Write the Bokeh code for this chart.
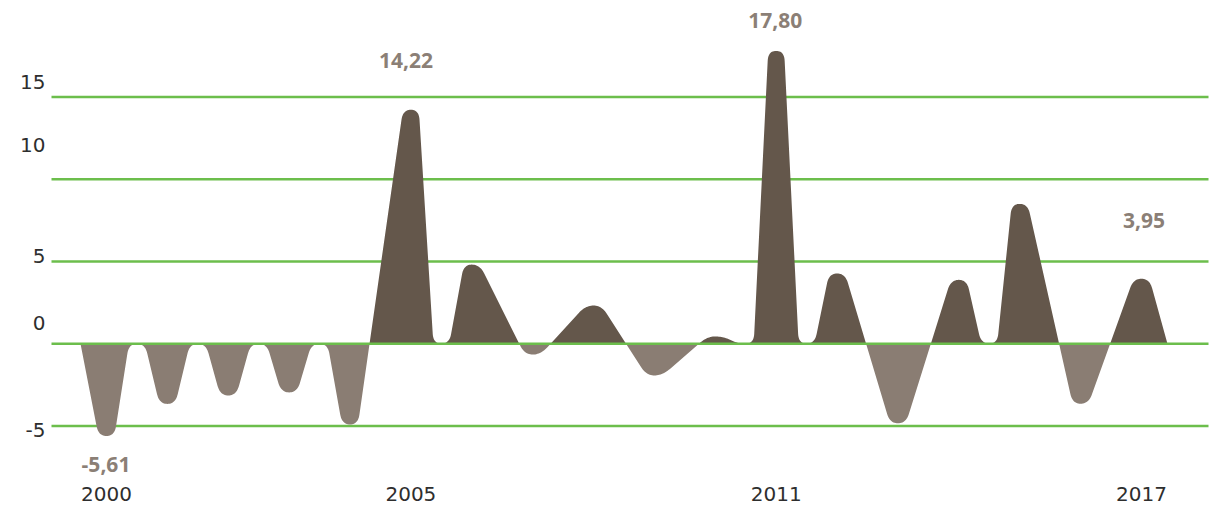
import numpy as np
from bokeh.plotting import figure
from bokeh.models import Range1d
from bokeh.core.properties import value
from bokeh.embed import file_html
from bokeh.resources import INLINE

# ---------------- data ----------------
years = list(range(2000, 2018))
values = [-5.61, -3.66, -3.15, -2.96, -4.91, 14.22, 4.81, -0.66, 2.32, -1.93,
          0.44, 17.80, 4.27, -4.84, 3.88, 8.50, -3.65, 3.95]
y_ticks = [15, 10, 5, 0, -5]
y_tick_labels = ["15", "10", "5", "0", "-5"]
x_tick_years = [2000, 2005, 2011, 2017]
x_tick_labels = ["2000", "2005", "2011", "2017"]
label_years = [2000, 2005, 2011, 2017]
label_values = [-5.61, 14.22, 17.80, 3.95]
label_texts = ["-5,61", "14,22", "17,80", "3,95"]

# ---------------- layout / style ----------------
W, H = 1226, 507
X0_PX, PX_PER_YEAR = 106.0, 60.88     # pixel of year 2000, pixels per year
Y0_PX, PX_PER_UNIT = 343.2, 16.45     # pixel (from top) of value 0, pixels per unit
DARK = "#64574b"
LIGHT = "#8a7d73"
GREEN = "#6cbe4c"
TEXT = "#2e2e2e"
LABEL = "#8b7f76"
HALF = 8.0      # half width of the flat tip, px
CUT = 10.0      # corner rounding length, px
END_PAD = 26.0  # start/end of the band beyond first/last year, px

def px_to_year(px):
    return 2000 + (px - X0_PX) / PX_PER_YEAR

def px_to_val(py):
    return (Y0_PX - py) / PX_PER_UNIT

p = figure(width=W, height=H, output_backend="svg", toolbar_location=None,
           x_range=Range1d(px_to_year(0), px_to_year(W)),
           y_range=Range1d(px_to_val(H), px_to_val(0)),
           min_border=0, x_axis_location=None, y_axis_location=None, title=None)
p.outline_line_color = None
p.xgrid.visible = False
p.ygrid.visible = False
p.background_fill_color = "white"
p.border_fill_color = "white"

# ---------------- geometry of the peaks (in pixel space) ----------------
def to_px_x(yr):
    return (yr - 2000) * PX_PER_YEAR

verts = [(to_px_x(years[0]) - END_PAD, 0.0)]
for i, (yr, v) in enumerate(zip(years, values)):
    cx, cy = to_px_x(yr), v * PX_PER_UNIT
    if i > 0 and (values[i - 1] > 0) == (v > 0):
        mx = cx - PX_PER_YEAR / 2
        verts += [(mx - HALF, 0.0), (mx + HALF, 0.0)]
    verts += [(cx - HALF, cy), (cx + HALF, cy)]
verts.append((to_px_x(years[-1]) + END_PAD, 0.0))
verts = np.array(verts)

pts = [verts[0]]
ts = np.linspace(0, 1, 14)
for k in range(1, len(verts) - 1):
    A, P, B = verts[k - 1], verts[k], verts[k + 1]
    la, lb = np.linalg.norm(P - A), np.linalg.norm(B - P)
    d_in, d_out = min(CUT, la / 2), min(CUT, lb / 2)
    S = P + (A - P) / la * d_in
    E = P + (B - P) / lb * d_out
    for t in ts:
        pts.append((1 - t) ** 2 * S + 2 * (1 - t) * t * P + t ** 2 * E)
pts.append(verts[-1])
pts = np.array(pts)

# insert exact zero crossings
cx_list, cy_list = [pts[0][0]], [pts[0][1]]
for (x1, y1), (x2, y2) in zip(pts[:-1], pts[1:]):
    if y1 * y2 < 0:
        xz = x1 + (x2 - x1) * (-y1) / (y2 - y1)
        cx_list.append(xz)
        cy_list.append(0.0)
    cx_list.append(x2)
    cy_list.append(y2)
xs = 2000 + np.array(cx_list) / PX_PER_YEAR
ys = np.array(cy_list) / PX_PER_UNIT

# ---------------- gridlines ----------------
gx0, gx1 = px_to_year(51), px_to_year(1208)
other = [t for t in y_ticks if t != 0]
p.segment(x0=[gx0] * len(other), y0=other, x1=[gx1] * len(other), y1=other,
          line_color=GREEN, line_width=2.6)

# ---------------- areas ----------------
p.varea(x=xs, y1=np.zeros_like(ys), y2=np.maximum(ys, 0), fill_color=DARK)
p.varea(x=xs, y1=np.minimum(ys, 0), y2=np.zeros_like(ys), fill_color=LIGHT)

p.segment(x0=[gx0], y0=[0], x1=[gx1], y1=[0], line_color=GREEN, line_width=2.6)

# ---------------- y tick labels ----------------
tick_dy_px = [-15, -34, -5.5, -20.7, 4.5]   # label offset from its gridline (px, down +)
p.text(x=[px_to_year(45)] * len(y_ticks),
       y=[t - d / PX_PER_UNIT for t, d in zip(y_ticks, tick_dy_px)],
       text=y_tick_labels, text_align="right", text_baseline="middle",
       text_font=value("DejaVu Sans"), text_font_size="20px", text_color=TEXT)

# ---------------- x tick labels ----------------
p.text(x=x_tick_years, y=[px_to_val(493)] * len(x_tick_years), text=x_tick_labels,
       text_align="center", text_baseline="middle",
       text_font=value("DejaVu Sans"), text_font_size="20px", text_color=TEXT)

# ---------------- value labels ----------------
label_dy_px = [28.5, -49.3, -30.4, -58.2]
label_dx_yr = [-0.5 / PX_PER_YEAR, -5 / PX_PER_YEAR, -1 / PX_PER_YEAR, 2.5 / PX_PER_YEAR]
p.text(x=[yr + dx for yr, dx in zip(label_years, label_dx_yr)],
       y=[v - d / PX_PER_UNIT for v, d in zip(label_values, label_dy_px)],
       text=label_texts, text_align="center", text_baseline="middle",
       text_font=value("Open Sans"), text_font_style="bold",
       text_font_size="21px", text_color=LABEL)

open("out.html", "w").write(file_html(p, INLINE))
